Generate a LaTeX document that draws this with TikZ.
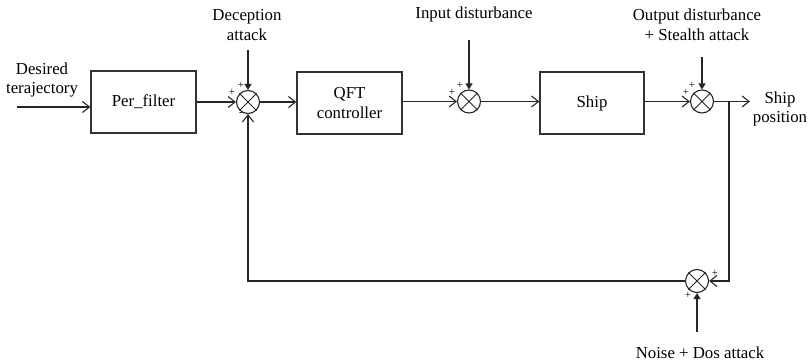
\documentclass[tikz,border=0pt]{standalone}
\usepackage{fontspec}
\setmainfont{Liberation Serif}
\usetikzlibrary{arrows.meta}
\tikzset{
  blk/.style={draw=black!80, line width=1.3pt, minimum width=105pt, minimum height=62pt, align=center, inner sep=0pt, font=\fontsize{16.8}{20}\selectfont},
  sumnode/.style={draw=black!85, circle, line width=1.1pt, minimum size=23pt, inner sep=0pt},
  sig/.style={line width=1.1pt, draw=black!85, -{Straight Barb[length=7pt,width=11pt,line width=1.1pt]}},
  dist/.style={line width=1.1pt, draw=black!85, -{Triangle[length=6pt,width=7pt]}},
  lbl/.style={align=center, inner sep=0pt, font=\fontsize{16.8}{19.5}\selectfont},
  sgn/.style={inner sep=0pt, font=\fontsize{11}{11}\selectfont}
}
\newcommand{\sumx}[1]{\draw[line width=0.9pt, black!85] (#1.north west) -- (#1.south east) (#1.north east) -- (#1.south west);}
\begin{document}
\begin{tikzpicture}[x=1pt,y=-1pt]
\useasboundingbox (0,0) rectangle (808,363);
% blocks
\node[blk] (pf) at (143.5,102) {Per\_filter};
\node[blk] (qft) at (349.5,103) {QFT\\controller};
\node[blk, minimum width=104pt] (ship) at (592,103) {Ship};
% sums
\node[sumnode] (s1) at (248,102) {};
\node[sumnode] (s2) at (469,101.5) {};
\node[sumnode] (s3) at (702,101.5) {};
\node[sumnode] (s4) at (697,281) {};
\sumx{s1}\sumx{s2}\sumx{s3}\sumx{s4}
% labels
\node[lbl] (des) at (42,80) {Desired\\terajectory};
\node[lbl] (dec) at (247,25) {Deception\\attack};
\node[lbl] (ind) at (474,14) {Input disturbance};
\node[lbl] (outd) at (697,25) {Output disturbance\\+ Stealth attack};
\node[lbl] (pos) at (780,109) {Ship\\position};
\node[lbl] (noise) at (700,353) {Noise + Dos attack};
% coordinates
\coordinate (in) at (17,107);
\coordinate (decs) at (248,50);
\coordinate (inds) at (469,40);
\coordinate (outs) at (702,57);
\coordinate (nois) at (697,332);
\coordinate (out) at (750,101.5);
\coordinate (br) at (729,101.5);
% connectors
\draw[sig] (in) -- (in -| pf.west);
\draw[sig] (pf.east |- s1) -- (s1);
\draw[sig] (s1) -- (qft.west |- s1);
\draw[sig] (qft.east |- s2) -- (s2);
\draw[sig] (s2) -- (ship.west |- s2);
\draw[sig] (ship.east |- s3) -- (s3);
\draw[sig] (s3) -- (out);
\draw[sig] (br) |- (s4);
\draw[sig] (s4) -| (s1);
\draw[dist] (decs) -- (s1);
\draw[dist] (inds) -- (s2);
\draw[dist] (outs) -- (s3);
\draw[dist] (nois) -- (s4);
% signs
\node[sgn] at (232,92) {+};
\node[sgn] at (241,85) {+};
\node[sgn] at (241,114) {-};
\node[sgn] at (452,92) {+};
\node[sgn] at (460,85) {+};
\node[sgn] at (686,92) {+};
\node[sgn] at (692,85) {+};
\node[sgn] at (715,273) {+};
\node[sgn] at (688,295) {+};
\end{tikzpicture}
\end{document}
